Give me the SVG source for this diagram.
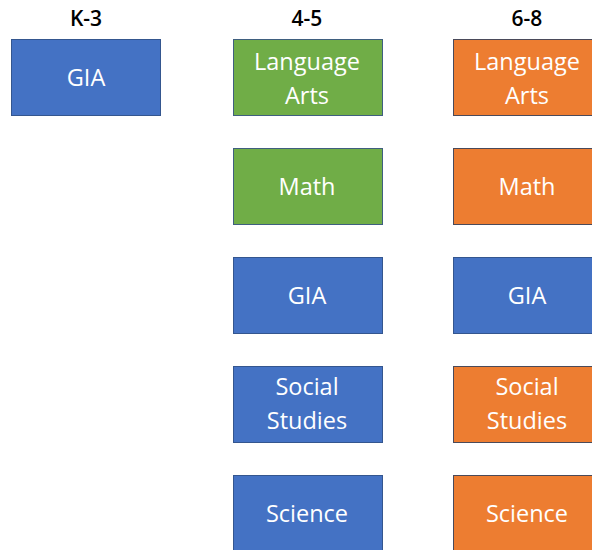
<svg xmlns="http://www.w3.org/2000/svg" width="592" height="550" viewBox="0 0 592 550">
<style>
.hd{font-family:"Open Sans","Liberation Sans",sans-serif;font-size:21px;font-weight:600;fill:#000;text-anchor:middle}
.lb{font-family:"Open Sans","Liberation Sans",sans-serif;font-size:23.5px;fill:#fff;text-anchor:middle;dominant-baseline:central}
.b{fill:#4472C4;stroke:#34568F;stroke-width:1}
.g{fill:#70AD47;stroke:#3F5F7F;stroke-width:1}
.o{fill:#ED7D31;stroke:#4A4A5A;stroke-width:1}
</style>
<rect width="592" height="550" fill="#fff"/>
<g id="headers">
<text class="hd" x="86" y="26">K-3</text>
<text class="hd" x="307" y="26">4-5</text>
<text class="hd" x="527" y="26">6-8</text>
</g>
<g id="k3-gia"><rect class="b" x="11.5" y="39.5" width="149" height="76"/><text class="lb" x="86" y="77">GIA</text></g>
<g id="m-la"><rect class="g" x="233.5" y="39.5" width="149" height="76"/><text class="lb" x="307" y="61">Language</text><text class="lb" x="307" y="95">Arts</text></g>
<g id="m-math"><rect class="g" x="233.5" y="148.5" width="149" height="76"/><text class="lb" x="307" y="186">Math</text></g>
<g id="m-gia"><rect class="b" x="233.5" y="257.5" width="149" height="76"/><text class="lb" x="307" y="295">GIA</text></g>
<g id="m-ss"><rect class="b" x="233.5" y="366.5" width="149" height="76"/><text class="lb" x="307" y="386">Social</text><text class="lb" x="307" y="420">Studies</text></g>
<g id="m-sci"><rect class="b" x="233.5" y="475.5" width="149" height="76"/><text class="lb" x="307" y="513">Science</text></g>
<g id="r-la"><rect class="o" x="453.5" y="39.5" width="149" height="76"/><text class="lb" x="527" y="61">Language</text><text class="lb" x="527" y="95">Arts</text></g>
<g id="r-math"><rect class="o" x="453.5" y="148.5" width="149" height="76"/><text class="lb" x="527" y="186">Math</text></g>
<g id="r-gia"><rect class="b" x="453.5" y="257.5" width="149" height="76"/><text class="lb" x="527" y="295">GIA</text></g>
<g id="r-ss"><rect class="o" x="453.5" y="366.5" width="149" height="76"/><text class="lb" x="527" y="386">Social</text><text class="lb" x="527" y="420">Studies</text></g>
<g id="r-sci"><rect class="o" x="453.5" y="475.5" width="149" height="76"/><text class="lb" x="527" y="513">Science</text></g>
<g id="connectors"/>
</svg>
